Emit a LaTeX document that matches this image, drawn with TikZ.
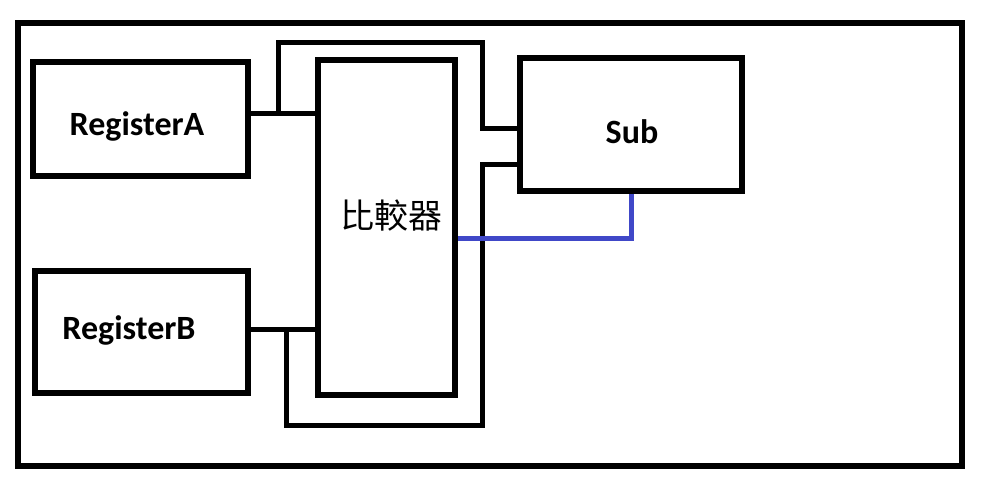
\documentclass[tikz,border=0pt]{standalone}
\usepackage{fontspec}
\setmainfont{Carlito}
\newfontfamily\cjk{Noto Sans CJK TC}
\definecolor{wireblue}{RGB}{64,72,200}
\begin{document}
\begin{tikzpicture}[x=1pt,y=-1pt,
  box/.style={draw=black,line width=5.5pt,rectangle,inner sep=0pt},
  wire/.style={draw=black,line width=5pt,line cap=rect},
  bwire/.style={draw=wireblue,line width=5pt},
  lab/.style={font=\fontsize{34}{40}\selectfont\bfseries,inner sep=0pt},
  cjklab/.style={font=\fontsize{34}{40}\selectfont\cjk,inner sep=0pt}]
\useasboundingbox[fill=white] (0,0) rectangle (1000,490);
\node[box,minimum width=944pt,minimum height=443pt] (frame) at (490,244.5) {};
\node[box,minimum width=215pt,minimum height=114pt] (rega) at (140.5,119) {};
\node[box,minimum width=213pt,minimum height=122pt] (regb) at (141.5,332) {};
\node[box,minimum width=137pt,minimum height=335pt] (comp) at (386.5,227.5) {};
\node[box,minimum width=222pt,minimum height=133pt] (sub) at (631,124.5) {};
\node[lab] (ta) at (137,126) {RegisterA};
\node[lab] (tb) at (129,330) {RegisterB};
\node[lab] (ts) at (632,132) {Sub};
\node[cjklab] (tc) at (391,216) {比較器};
\coordinate (ja) at (278,113);
\coordinate (jb) at (286,329);
\draw[wire] (rega.east |- ja) -- (comp.west |- ja);
\draw[wire] (regb.east |- jb) -- (comp.west |- jb);
\draw[wire] (ja) -- (278,42) -- (482,42) -- (482,128) -- (sub.west |- 0,128);
\draw[wire] (jb) -- (286,425) -- (482,425) -- (482,164) -- (sub.west |- 0,164);
\draw[bwire] (comp.east |- 0,238) -| (sub.south);
\end{tikzpicture}
\end{document}
